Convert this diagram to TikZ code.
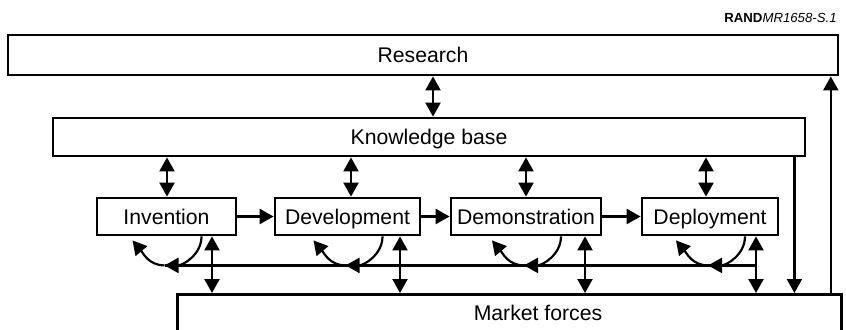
\documentclass[tikz,border=0pt]{standalone}
\usepackage{fontspec}
\setmainfont{Liberation Sans}
\usetikzlibrary{arrows.meta,calc}

\begin{document}
\begin{tikzpicture}[x=0.5pt, y=-0.5pt]
    \tikzstyle{bigbox} = [rectangle, draw, line width=1.4pt, minimum height=19pt, inner sep=0pt, text height=7.6pt, text depth=0pt, font=\fontsize{10.6}{12}\selectfont]
    \tikzstyle{stagebox} = [bigbox, minimum height=18.5pt]
    \tikzstyle{flow} = [->, >={Triangle[length=7pt, width=7.5pt]}, line width=1.1pt]
    \tikzstyle{twoway} = [flow, <->]

    \useasboundingbox (0,0) rectangle (846,329);
    \clip (0,0) rectangle (846,329);

    \node[bigbox, minimum width=415pt, minimum height=20pt] (res) at (423,55) {Research};
    \node[bigbox, minimum width=376pt] (kb) at (429,137) {Knowledge base};
    \node[stagebox, minimum width=69.5pt] (inv) at (166.5,216.5) {Invention};
    \node[stagebox, minimum width=72.5pt] (dev) at (347.5,216.5) {Development};
    \node[stagebox, minimum width=75pt] (dem) at (526,216.5) {Demonstration};
    \node[stagebox, minimum width=68pt] (dep) at (710,216.5) {Deployment};
    % market forces runs off the bottom edge
    \node[bigbox, minimum width=332pt, minimum height=40pt, anchor=north west] (mkt) at (176,293) {};
    \node[font=\fontsize{10.6}{12}\selectfont, inner sep=0pt, text height=7.6pt, text depth=0pt] (mktlabel) at (538,313) {Market forces};
    \node[anchor=base east, inner sep=0pt, font=\fontsize{6.6}{8}\selectfont] (tag) at (837,22) {\textbf{RAND}\textit{MR1658-S.1}};

    \coordinate (up) at ($(res.south)+(10,0)$);
    \draw[twoway] (up) -- (up |- kb.north);

    \draw[flow] (inv) -- (dev);
    \draw[flow] (dev) -- (dem);
    \draw[flow] (dem) -- (dep);

    \foreach \b/\dk/\dv in {inv/0.5/45.5, dev/3.5/52.5, dem/0/59, dep/-4/46} {
        \coordinate (\b-k) at ($(\b.north)+(\dk,0)$);
        \coordinate (\b-v) at ($(\b.south)+(\dv,0)$);
        \coordinate (\b-bot) at ($(\b.south)+(-2,29)$);
        \draw[twoway] (\b-k |- kb.south) -- (\b-k);
        \draw[twoway] (\b-v) -- (\b-v |- mkt.north);
        \draw[flow] ($(\b.south)+(35,0)$) to[out=-90, in=0] (\b-bot);
        \draw[flow] (\b-bot) to[out=180, in=-50] ($(\b.south)+(-34,4)$);
    }
    \draw[line width=1.1pt] (inv-bot) -- (inv-bot -| dep-v);

    % side links
    \coordinate (drop) at ($(kb.south east)+(-12,0)$);
    \draw[flow] (drop) -- (drop |- mkt.north);
    \coordinate (rise) at ($(mkt.north east)+(-12,0)$);
    \draw[flow] (rise) -- (rise |- res.south);
\end{tikzpicture}
\end{document}
